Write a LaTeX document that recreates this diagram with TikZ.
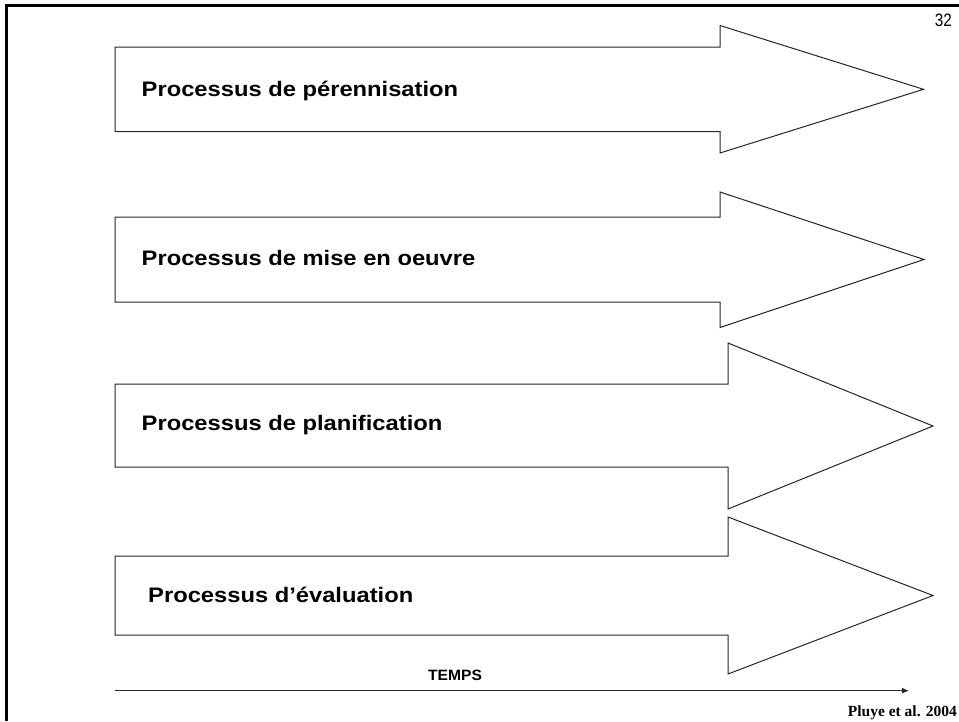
\documentclass[tikz,border=0pt]{standalone}
\usepackage{fontspec}
\setmainfont{Liberation Sans}
\newfontfamily\timesfont{Liberation Serif}
\usetikzlibrary{arrows.meta}
\begin{document}
\begin{tikzpicture}[x=1pt,y=-1pt,
  bigarrow/.style={draw=black!85,line width=1pt,fill=white,line join=miter},
  proclabel/.style={anchor=base west,inner sep=0pt,font=\fontsize{21}{25}\selectfont\bfseries},
  frameline/.style={line width=2.5pt,black}]
\useasboundingbox (0,0) rectangle (959,721);
% frame
\draw[frameline] (959,5.5) -- (6.5,5.5) -- (6.5,721);
\node[anchor=base east,inner sep=0pt,font=\fontsize{18}{20}\selectfont] (pagenum) at (952,26.5) {\scalebox{0.85}[1]{32}};
% arrow 1
\draw[bigarrow] (115,47) -- (720,47) -- (720,25.5) -- (923.5,89.3) -- (720,153) -- (720,131.5) -- (115,131.5) -- cycle;
\node[proclabel] (p1) at (141.5,96.7) {\scalebox{1.13}[1]{Processus de pérennisation}};
% arrow 2
\draw[bigarrow] (115,217) -- (720,217) -- (720,192) -- (924,259.5) -- (720,327.5) -- (720,302) -- (115,302) -- cycle;
\node[proclabel] (p2) at (141.5,265) {\scalebox{1.13}[1]{Processus de mise en oeuvre}};
% arrow 3
\draw[bigarrow] (115,384) -- (728,384) -- (728,343) -- (933,426) -- (728,509) -- (728,467) -- (115,467) -- cycle;
\node[proclabel] (p3) at (141.5,430.7) {\scalebox{1.13}[1]{Processus de planification}};
% arrow 4
\draw[bigarrow] (115,556) -- (728,556) -- (728,517) -- (933,595.5) -- (728,674) -- (728,635) -- (115,635) -- cycle;
\node[proclabel] (p4) at (148,602.3) {\scalebox{1.13}[1]{Processus d’évaluation}};
% time axis
\coordinate (t0) at (115,690.7);
\coordinate (t1) at (909,690.7);
\draw[line width=1.2pt,black!85,-{Latex[length=7pt,width=6pt]}] (t0) -- (t1);
\node[anchor=base west,inner sep=0pt,font=\fontsize{15}{17}\selectfont\bfseries] (temps) at (428,680.7) {\scalebox{1.04}[1]{TEMPS}};
\node[anchor=base east,inner sep=0pt,font=\timesfont\fontsize{15.5}{17}\selectfont\bfseries] (src) at (957,716.7) {Pluye et al. 2004};
\end{tikzpicture}
\end{document}
